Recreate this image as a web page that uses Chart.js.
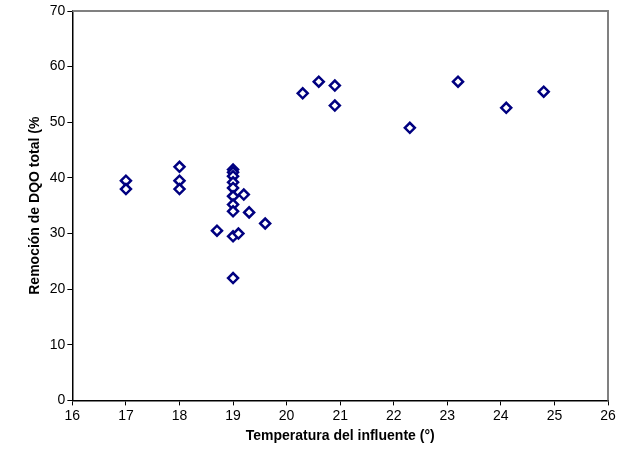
<!DOCTYPE html>
<html><head><meta charset="utf-8">
<script src="https://cdn.jsdelivr.net/npm/chart.js@4/dist/chart.umd.min.js"></script>
<style>body{margin:0;background:#fff}#w{width:620px;height:471px}</style>
</head><body><div id="w"><canvas id="c"></canvas></div>
<script>
const temps = [17,17,18,18,18,18.7,19,19,19,19,19,19,19,19,19,19,19.1,19.2,19.3,19.6,20.3,20.6,20.9,20.9,22.3,23.2,24.1,24.8];
const removal = [39.5,38,42,39.5,38,30.5,41.5,41,40.3,39.2,38.2,36.7,35.2,34,29.5,22,30,37,33.8,31.8,55.2,57.3,56.6,53,49,57.3,52.6,55.5];

const border = {
  id: 'border',
  afterDraw(ch) {
    const a = ch.chartArea, x = ch.ctx;
    x.save(); x.strokeStyle = '#808080'; x.lineWidth = 2;
    x.beginPath(); x.moveTo(a.left, a.top); x.lineTo(a.right, a.top); x.lineTo(a.right, a.bottom); x.stroke();
    x.restore();
  }
};

new Chart(document.getElementById('c'), {
  type: 'scatter',
  data: { datasets: [{
    data: temps.map((t, i) => ({ x: t, y: removal[i] })),
    pointStyle: 'rectRot', radius: 5, borderWidth: 2.5,
    borderColor: '#000080', backgroundColor: '#ffffff'
  }]},
  options: {
    responsive: true, maintainAspectRatio: false, animation: false,
    layout: { padding: { top: 11, right: 12, left: 23, bottom: 24 } },
    plugins: { legend: { display: false }, tooltip: { enabled: false } },
    scales: {
      x: { min: 16, max: 26, ticks: { stepSize: 1, color: '#000', padding: 2, font: { family: 'Liberation Sans', size: 14 } },
        grid: { drawOnChartArea: false, tickLength: 5, color: '#000' }, border: { color: '#000', width: 1.5 },
        title: { display: true, text: 'Temperatura del influente (°)', color: '#000', padding: 2, font: { family: 'Liberation Sans', size: 14, weight: 'bold' } } },
      y: { min: 0, max: 70, ticks: { stepSize: 10, color: '#000', padding: 2, font: { family: 'Liberation Sans', size: 14 } },
        grid: { drawOnChartArea: false, tickLength: 5, color: '#000' }, border: { color: '#000', width: 1.5 },
        title: { display: true, text: 'Remoción de DQO total (%', color: '#000', font: { family: 'Liberation Sans', size: 14, weight: 'bold' } } }
    }
  },
  plugins: [border]
});
</script></body></html>
